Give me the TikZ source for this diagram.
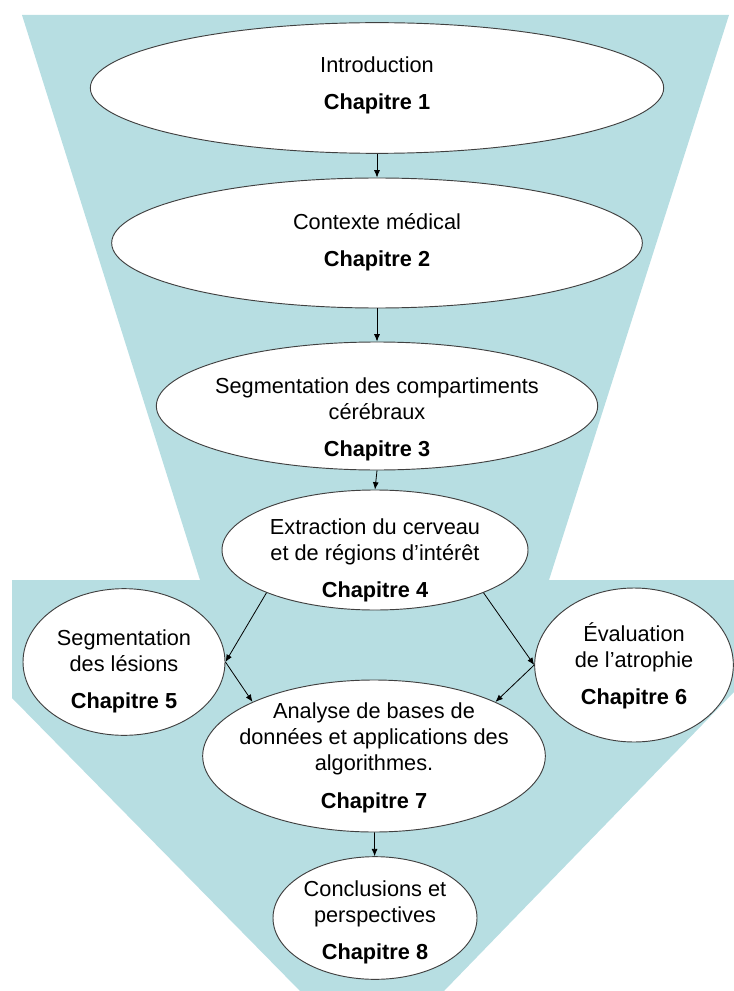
\documentclass[tikz,border=0pt]{standalone}
\usepackage{fontspec}
\setmainfont{Liberation Sans}
\usetikzlibrary{shapes.geometric,arrows.meta}
\definecolor{entonnoir}{RGB}{183,222,226}
\tikzset{
  bulle/.style={ellipse,draw=black!75,line width=0.7pt,fill=white,inner sep=0pt},
  texte/.style={align=center,inner sep=0pt,font=\fontsize{16.3}{19.5}\selectfont},
  fleche/.style={-{Latex[length=5.5pt,width=4.5pt]},line width=0.6pt},
}
\newcommand{\chap}[1]{\\[8.5pt]\textbf{Chapitre #1}}

\begin{document}
\begin{tikzpicture}[x=0.75pt,y=-0.75pt]
            \useasboundingbox (0,0) rectangle (734,991);

            % fond en entonnoir
            \begin{scope}
              \clip (0,0) rectangle (734,991);
              \fill[entonnoir] (22,15) -- (729,15) -- (549,580) -- (734,580) -- (734,692)
                -- (444,991) -- (300,991) -- (12,698) -- (12,580) -- (200,580) -- cycle;
            \end{scope}

            \node[bulle,minimum width=430pt,minimum height=98pt] (e1) at (377,88) {};
            \node[bulle,minimum width=398pt,minimum height=97.5pt] (e2) at (377,243) {};
            \node[bulle,minimum width=331pt,minimum height=96pt] (e3) at (377,406) {};
            \node[bulle,minimum width=229.5pt,minimum height=90pt] (e4) at (375,550) {};
            \node[bulle,minimum width=151.5pt,minimum height=110pt] (e5) at (124,662) {};
            \node[bulle,minimum width=149pt,minimum height=115.5pt] (e6) at (634,665) {};
            \node[bulle,minimum width=257pt,minimum height=114pt] (e7) at (374,756) {};
            \node[bulle,minimum width=153pt,minimum height=92pt] (e8) at (375,918) {};

            \node[texte] (t1) at (377,85.5) {Introduction\chap{1}};
            \node[texte] (t2) at (377,242) {Contexte médical\chap{2}};
            \node[texte] (t3) at (377,419.5) {Segmentation des compartiments\\cérébraux\chap{3}};
            \node[texte] (t4) at (375,560.5) {Extraction du cerveau\\et de régions d’intérêt\chap{4}};
            \node[texte] (t5) at (124,671.5) {Segmentation\\des lésions\chap{5}};
            \node[texte] (t6) at (634,665.5) {Évaluation\\de l’atrophie\chap{6}};
            \node[texte] (t7) at (374,758) {Analyse de bases de\\données et applications des\\algorithmes.\chap{7}};
            \node[texte] (t8) at (375,922.5) {Conclusions et\\perspectives\chap{8}};

            \draw[fleche] (e1) -- (e2);
            \draw[fleche] (e2) -- (e3);
            \draw[fleche] (e3.south) -- (e4.north);
            \draw[fleche] (e4.south west) -- (e5.east);
            \draw[fleche] (e4.south east) -- (e6.west);
            \draw[fleche] (e5.east) -- (e7.north west);
            \draw[fleche] (e6.west) -- (e7.north east);
            \draw[fleche] (e7) -- (e8);
        \end{tikzpicture}
\end{document}
